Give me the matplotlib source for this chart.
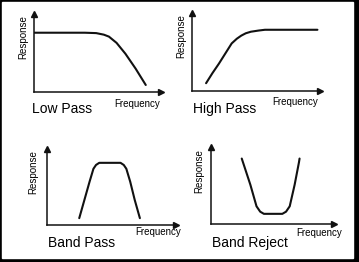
import matplotlib
matplotlib.use("Agg")
import matplotlib.pyplot as plt
from matplotlib.patches import Rectangle

plt.rcParams.update({"font.family": ["Liberation Sans", "DejaVu Sans"]})

W, H = 359, 262

# response curves (frequency %, response %)
low_freq = [0, 20, 40, 49, 55, 59, 65, 72, 80, 88]
low_resp = [76, 76, 76, 75.5, 73.5, 71, 63, 49, 30, 9]

high_freq = [11, 16, 21, 26, 31, 35, 38.5, 42, 46, 52, 57, 70, 98]
high_resp = [10, 23, 35, 48, 61, 67, 71, 74, 76, 77.5, 78.5, 78.5, 78.5]

bp_freq = [25, 29, 33, 36, 38, 40.5, 57, 59.5, 61.5, 64.5, 68, 72]
bp_resp = [9, 33, 57, 74, 79, 81.8, 81.8, 79, 74, 57, 33, 9]

br_freq = [25, 28.5, 32, 37, 40, 43, 58, 61, 64, 68, 71.5, 72]
br_resp = [85, 68, 51, 23, 16, 13.2, 13.2, 16, 23, 51, 80, 85]

panels = [
    # name, freq, resp, axes box (left, top, right, bottom) px, title pos, freq-label pos, resp-label pos
    ("Low Pass", low_freq, low_resp, (34, 14, 161, 92), (32, 109), (114, 104), (23, 37)),
    ("High Pass", high_freq, high_resp, (192, 13, 320, 91), (193, 109), (272, 102), (181, 36)),
    ("Band Pass", bp_freq, bp_resp, (47, 149, 176, 225), (48, 243), (135, 232), (33, 172)),
    ("Band Reject", br_freq, br_resp, (211, 147, 334, 224), (212, 243), (296, 233), (199, 171)),
]

fig = plt.figure(figsize=(W / 100, H / 100), dpi=100)

# black frame with heavier right/bottom edge
fig.patches.append(Rectangle((0, 0), 1, 1, transform=fig.transFigure, color="black", zorder=-2))
fig.patches.append(Rectangle((2 / W, 4 / H), (353 - 2) / W, (258 - 2) / H,
                             transform=fig.transFigure, color="white", zorder=-1))

for name, fx, fy, (l, t, r, b), tpos, fpos, rpos in panels:
    ax = fig.add_axes([l / W, 1 - b / H, (r - l) / W, (b - t) / H])
    ax.patch.set_visible(False)
    ax.plot(fx, fy, color="#111111", lw=1.5, solid_capstyle="round", solid_joinstyle="round")
    ax.set_xlim(0, 100)
    ax.set_ylim(0, 100)
    for s in ("top", "right"):
        ax.spines[s].set_visible(False)
    for s in ("left", "bottom"):
        ax.spines[s].set_linewidth(1.1)
        ax.spines[s].set_color("#111111")
    ax.set_xticks([])
    ax.set_yticks([])
    ax.plot(1, 0, ">", color="#111111", ms=4, transform=ax.transAxes, clip_on=False)
    ax.plot(0, 1, "^", color="#111111", ms=4, transform=ax.transAxes, clip_on=False)

    fig.text(tpos[0] / W, 1 - tpos[1] / H, name, fontsize=10, ha="left", va="center")
    fig.text(fpos[0] / W, 1 - fpos[1] / H, "Frequency", fontsize=7, ha="left", va="center")
    fig.text(rpos[0] / W, 1 - rpos[1] / H, "Response", fontsize=7, rotation=90,
             ha="center", va="center")

fig.savefig("out.png", dpi=100)
